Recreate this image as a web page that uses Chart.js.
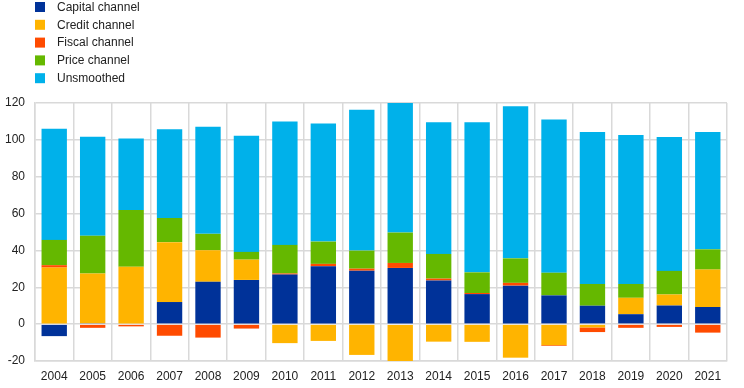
<!DOCTYPE html>
<html>
<head>
<meta charset="utf-8">
<script src="https://cdn.jsdelivr.net/npm/chart.js@4/dist/chart.umd.min.js"></script>
<style>
  html, body { margin: 0; padding: 0; background: #fff; }
  #wrap { width: 744px; height: 388px; position: relative; }
</style>
</head>
<body>
<div id="wrap"><canvas id="chart" width="744" height="388"></canvas></div>
<script>
var years = ['2004', '2005', '2006', '2007', '2008', '2009', '2010', '2011', '2012',
	'2013', '2014', '2015', '2016', '2017', '2018', '2019', '2020', '2021'];

var capital = [-6.5, 0.5, 0, 12, 23, 24, 26.9, 31.4, 29, 30.5, 23.7, 16.3, 20.9, 15.6, 10, 5.4, 10.1, 9.3];
var credit = [30.7, 27, 31.2, 32.5, 17.1, 11, -10.3, -9.1, -16.7, -21, -9.5, -9.6, -18.2, -11.4, -1.8, 8.9, 6, 20.3];
var fiscal = [1.3, -2, -1.2, -6.3, -7.3, -2.4, 0.6, 1.3, 1.1, 2.7, 1, 0.6, 1.5, -0.4, -2.5, -2, -1.5, -4.6];
var price = [13.7, 20.5, 30.7, 13.1, 8.9, 4.2, 15.5, 12.1, 9.8, 16.5, 13.4, 11.2, 13.3, 12.3, 11.8, 7.5, 12.8, 11];
var unsmoothed = [60.3, 53.7, 38.9, 48.1, 58.1, 63, 67, 64.1, 76.4, 72, 71.4, 81.4, 82.5, 83.2, 82.4, 80.8, 72.6, 63.6];

var yTicks = { min: -20, max: 120, step: 20 };

var chartColors = {
	capital: '#003299',
	credit: '#ffb400',
	fiscal: '#ff4b00',
	price: '#65b800',
	unsmoothed: '#00b1ea'
};

Chart.defaults.font.family = '"Liberation Sans", Arial, sans-serif';
Chart.defaults.font.size = 12;
Chart.defaults.color = '#222';

// legend drawn as one column in the top-left corner
var columnLegend = {
	id: 'columnLegend',
	afterDraw: function(chart) {
		var ctx = chart.ctx;
		ctx.save();
		ctx.font = '12px "Liberation Sans", Arial, sans-serif';
		ctx.textBaseline = 'middle';
		chart.data.datasets.forEach(function(ds, i) {
			var y = 2 + i * 17.8;
			ctx.fillStyle = ds.backgroundColor;
			ctx.fillRect(35, y, 10, 10);
			ctx.fillStyle = '#222';
			ctx.fillText(ds.label, 57, y + 5.5);
		});
		ctx.restore();
	}
};

new Chart(document.getElementById('chart'), {
	type: 'bar',
	data: {
		labels: years,
		datasets: [
			{ label: 'Capital channel', data: capital, backgroundColor: chartColors.capital },
			{ label: 'Credit channel', data: credit, backgroundColor: chartColors.credit },
			{ label: 'Fiscal channel', data: fiscal, backgroundColor: chartColors.fiscal },
			{ label: 'Price channel', data: price, backgroundColor: chartColors.price },
			{ label: 'Unsmoothed', data: unsmoothed, backgroundColor: chartColors.unsmoothed }
		]
	},
	options: {
		responsive: false,
		animation: false,
		layout: { padding: { top: 103, right: 17, bottom: 0, left: 0 } },
		datasets: { bar: { categoryPercentage: 0.66, barPercentage: 1, borderWidth: 0 } },
		plugins: {
			legend: { display: false },
			tooltip: { enabled: false }
		},
		scales: {
			x: {
				stacked: true,
				grid: { offset: true, color: '#d9d9d9', lineWidth: 1.5, drawTicks: false },
				border: { color: '#d9d9d9', width: 1.5 },
				ticks: { padding: 8, maxRotation: 0, autoSkip: false },
				afterFit: function(axis) { axis.height = 27; }
			},
			y: {
				stacked: true,
				min: yTicks.min,
				max: yTicks.max,
				grid: { color: '#d9d9d9', lineWidth: 1.5, drawTicks: false },
				border: { color: '#d9d9d9', width: 1.5 },
				ticks: { stepSize: yTicks.step, padding: 10 },
				afterFit: function(axis) { axis.width = 35; }
			}
		}
	},
	plugins: [columnLegend]
});
</script>
</body>
</html>
